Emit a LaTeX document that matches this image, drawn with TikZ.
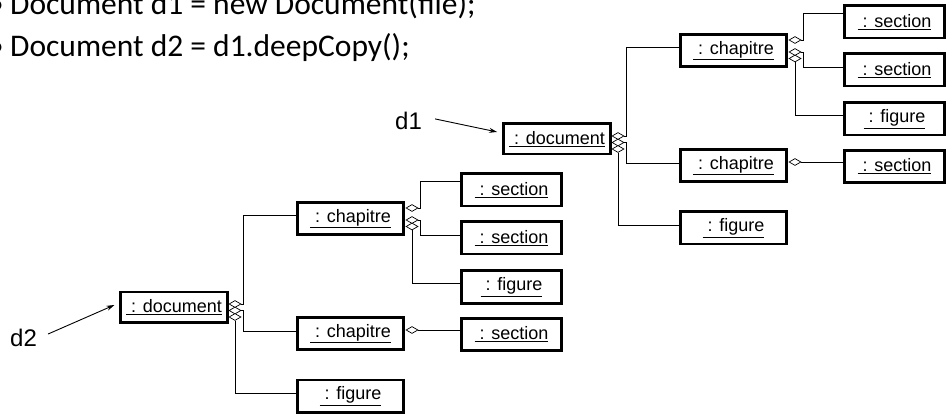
\documentclass[tikz,border=0pt]{standalone}
\usepackage{fontspec}
\setmainfont{Liberation Sans}
\newfontfamily\slidefont{Carlito}
\usetikzlibrary{positioning,calc,arrows.meta,shapes.geometric}
\tikzset{font=\fontsize{18}{20}\selectfont}
\tikzset{
	obj/.style={draw, line width=2.6pt, minimum width=106.4pt, minimum height=32.4pt, inner sep=0pt},
	objs/.style={obj, minimum width=100.4pt},
	objd/.style={obj, minimum width=107.4pt, minimum height=30.4pt},
	agg/.style={diamond, draw, fill=white, line width=0.7pt, minimum width=12pt, minimum height=7pt, inner sep=0pt},
	link/.style={line width=0.9pt},
	ptr/.style={line width=0.9pt, -{Stealth[length=8pt,width=5pt]}, shorten >=5pt},
	varname/.style={anchor=base west, inner sep=0pt, font=\fontsize{24}{28}\selectfont},
	codeline/.style={anchor=base west, inner sep=0pt, font=\slidefont\fontsize{31.5}{36}\selectfont}
}
\newcommand{\objname}[1]{\underline{\ : #1}}

\begin{document}
\begin{tikzpicture}[x=1pt, y=-1pt]
	\useasboundingbox (0,0) rectangle (948,414);

	\node[codeline] (line1) at (10,15) {\llap{•\hspace{6.5pt}}Document d1 = new Document(file);};
	\node[codeline] (line2) at (10,57) {\llap{•\hspace{6.5pt}}Document d2 = d1.deepCopy();};

	% d1
	\node[objd] (doc1) at (557,139) {\objname{document}};
	\node[obj] (chA1) at (733.5,50.5) {\objname{chapitre}};
	\node[obj] (chB1) at (733.5,165.5) {\objname{chapitre}};
	\node[obj] (fgD1) at (733.5,228) {\objname{figure}};
	\node[objs] (sA1) at (894.5,22) {\objname{section}};
	\node[objs] (sB1) at (894.5,70) {\objname{section}};
	\node[objs] (fA1) at (894.5,119) {\objname{figure}};
	\node[objs] (sC1) at (894.5,166.5) {\objname{section}};

	\node[agg] (g1a) at (618,136) {};
	\node[agg] (g1b) at (618,142.5) {};
	\node[agg] (g1c) at (618,149) {};
	\node[agg] (k1a) at (795,40) {};
	\node[agg] (k1b) at (795,52) {};
	\node[agg] (k1c) at (795,58.5) {};
	\node[agg] (k1d) at (795,162) {};

	\draw[link] (g1a.east) -- ++(2,0) |- ([yshift=3.5pt]chA1.west);
	\draw[link] (g1b.east) -- ++(2,0) |- ([yshift=2.5pt]chB1.west);
	\draw[link] (g1c.south) |- ([yshift=3pt]fgD1.west);
	\draw[link] (k1a.east) -- ++(2,0) |- ([yshift=9pt]sA1.west);
	\draw[link] (k1b.east) -- ++(2,0) |- ([yshift=3pt]sB1.west);
	\draw[link] (k1c.south) |- ([yshift=4pt]fA1.west);
	\draw[link] (k1d.east) -- ([yshift=4.5pt]sC1.west);

	\node[varname] (lb1) at (395,130) {d1};
	\draw[ptr] ([shift={(13pt,2.5pt)}]lb1.east) -- ([yshift=6pt]doc1.west);

	% d2 (the copy)
	\node[objd] (doc2) at (174,307) {\objname{document}};
	\node[obj] (chA2) at (350.5,218.5) {\objname{chapitre}};
	\node[obj] (chB2) at (350.5,333.5) {\objname{chapitre}};
	\node[obj] (fgD2) at (350.5,396) {\objname{figure}};
	\node[objs] (sA2) at (511.5,190) {\objname{section}};
	\node[objs] (sB2) at (511.5,238) {\objname{section}};
	\node[objs] (fA2) at (511.5,287) {\objname{figure}};
	\node[objs] (sC2) at (511.5,334.5) {\objname{section}};

	\node[agg] (g2a) at (235,304) {};
	\node[agg] (g2b) at (235,310.5) {};
	\node[agg] (g2c) at (235,317) {};
	\node[agg] (k2a) at (412,208) {};
	\node[agg] (k2b) at (412,220) {};
	\node[agg] (k2c) at (412,226.5) {};
	\node[agg] (k2d) at (412,330) {};

	\draw[link] (g2a.east) -- ++(2,0) |- ([yshift=3.5pt]chA2.west);
	\draw[link] (g2b.east) -- ++(2,0) |- ([yshift=2.5pt]chB2.west);
	\draw[link] (g2c.south) |- ([yshift=3pt]fgD2.west);
	\draw[link] (k2a.east) -- ++(2,0) |- ([yshift=9pt]sA2.west);
	\draw[link] (k2b.east) -- ++(2,0) |- ([yshift=3pt]sB2.west);
	\draw[link] (k2c.south) |- ([yshift=4pt]fA2.west);
	\draw[link] (k2d.east) -- ([yshift=4.5pt]sC2.west);

	\node[varname] (lb2) at (10,346) {d2};
	\draw[ptr] ([shift={(11pt,3.4pt)}]lb2.east) -- ([yshift=4pt]doc2.west);
\end{tikzpicture}
\end{document}
